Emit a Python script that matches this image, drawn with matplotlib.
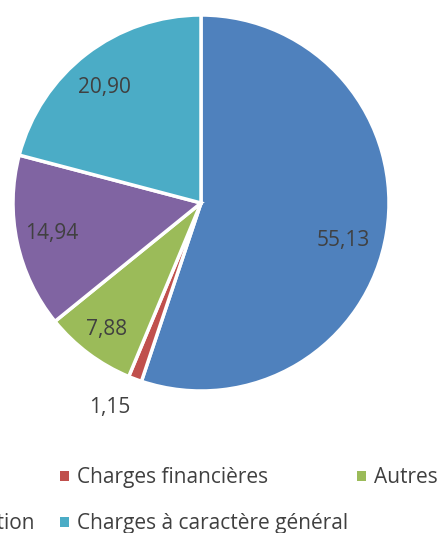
import matplotlib.pyplot as plt
from matplotlib.patches import Patch
import numpy as np

labels = ["Charges de personnel", "Charges financières", "Autres",
          "Autres charges de gestion", "Charges à caractère général"]
values = [55.13, 1.15, 7.88, 14.94, 20.90]
value_text = ["55,13", "1,15", "7,88", "14,94", "20,90"]
colors = ["#4F81BD", "#C0504D", "#9BBB59", "#8064A2", "#4BACC6"]

plt.rcParams['font.family'] = ['Open Sans', 'DejaVu Sans']

W, H = 440, 533
fig = plt.figure(figsize=(W / 100, H / 100), dpi=100)

# pie area: center ~(201,203) px from top, radius ~188
cx, cy, r = 201, 203, 188
ax = fig.add_axes([(cx - r) / W, (H - cy - r) / H, 2 * r / W, 2 * r / H])
wedges, _ = ax.pie(values, colors=colors, startangle=90, counterclock=False,
                   radius=1, wedgeprops=dict(edgecolor="white", linewidth=2.5))
ax.set_xlim(-1, 1)
ax.set_ylim(-1, 1)
ax.set_aspect("equal")
ax.axis("off")

# data labels (Excel best-fit placement)
dist = [0.78, 1.19, 0.84, 0.81, 0.80]
shift = [-5.4, -3.6, 0, -0.7, 2.4]
for w, t, d, s in zip(wedges, value_text, dist, shift):
    a = np.deg2rad((w.theta1 + w.theta2) / 2 + s)
    ax.text(d * np.cos(a), d * np.sin(a), t, ha="center", va="center",
            fontsize=15, color="#404040")

# legend in 3 columns, the first one mostly cut off on the left
handles = [Patch(facecolor=c) for c in colors]
leg_kw = dict(frameon=False, fontsize=15, labelcolor="#404040",
              handlelength=0.42, handleheight=0.42, handletextpad=0.4,
              columnspacing=0.4, labelspacing=1.2, borderpad=0.0,
              loc="upper right")
top = (H - 457) / H
right_cols = [1, 4, 2]
fig.legend([handles[i] for i in right_cols], [labels[i] for i in right_cols],
           ncol=2, bbox_to_anchor=(448 / W, top), **leg_kw)
left_col = [0, 3]
fig.legend([handles[i] for i in left_col], [labels[i] for i in left_col],
           ncol=1, bbox_to_anchor=(45 / W, top), **leg_kw)

fig.savefig("out.png", dpi=100)
